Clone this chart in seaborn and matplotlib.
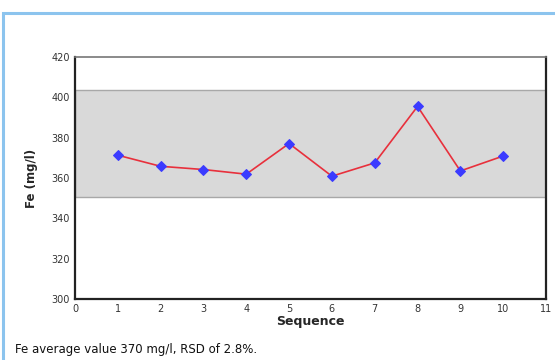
import matplotlib
matplotlib.use("Agg")
import matplotlib.pyplot as plt
import matplotlib.patches as patches
import seaborn as sns
import pandas as pd

# data
sequence = [1, 2, 3, 4, 5, 6, 7, 8, 9, 10]
fe_values = [371.3, 365.8, 364.2, 361.9, 377.1, 360.9, 367.5, 395.5, 363.5, 370.9]
band_low = 350.6
band_high = 403.8
x_ticks = list(range(0, 12))
y_ticks = [300, 320, 340, 360, 380, 400, 420]

df = pd.DataFrame({"Sequence": sequence, "Fe": fe_values})

sns.set_style("white")
plt.rcParams["font.family"] = ["DejaVu Sans"]

fig = plt.figure(figsize=(5.55, 3.6), dpi=100)
fig.patch.set_facecolor("white")

# light blue frame around the panel
frame = patches.Rectangle((3 / 555, -0.05), 1.2, 1 - 13 / 360 + 0.05,
                          transform=fig.transFigure, fill=False,
                          edgecolor="#8cc4ee", linewidth=2.2, zorder=0)
fig.patches.append(frame)

ax = fig.add_axes([75 / 555, 1 - 299 / 360, (546 - 75) / 555, (299 - 57) / 360])
ax.set_facecolor("white")

# acceptance band
ax.axhspan(band_low, band_high, facecolor="#d9d9d9", edgecolor="#a8a8a8",
           linewidth=1.0, zorder=1)

sns.lineplot(data=df, x="Sequence", y="Fe", ax=ax, color="#e8303c",
             linewidth=1.2, marker="D", markersize=5.5,
             markerfacecolor="#3b3bff", markeredgecolor="#3b3bff", zorder=3)

ax.set_xlim(0, 11)
ax.set_ylim(300, 420)
ax.set_xticks(x_ticks)
ax.set_yticks(y_ticks)
ax.tick_params(axis="both", labelsize=7, colors="#333333", length=3,
               width=1, direction="inout", pad=2)

for side in ["left", "bottom", "right"]:
    ax.spines[side].set_color("#222222")
    ax.spines[side].set_linewidth(1.6)
ax.spines["top"].set_color("#777777")
ax.spines["top"].set_linewidth(1.2)

ax.set_xlabel("Sequence", fontsize=9, fontweight="bold", labelpad=1)
ax.set_ylabel("Fe (mg/l)", fontsize=8.5, fontweight="bold", labelpad=10)

fig.text(15 / 555, 1 - 350 / 360, "Fe average value 370 mg/l, RSD of 2.8%.",
         fontsize=8.5, va="center", ha="left", color="#111111",
         family=["Liberation Sans Narrow", "DejaVu Sans"])

fig.savefig("out.png", dpi=100)
